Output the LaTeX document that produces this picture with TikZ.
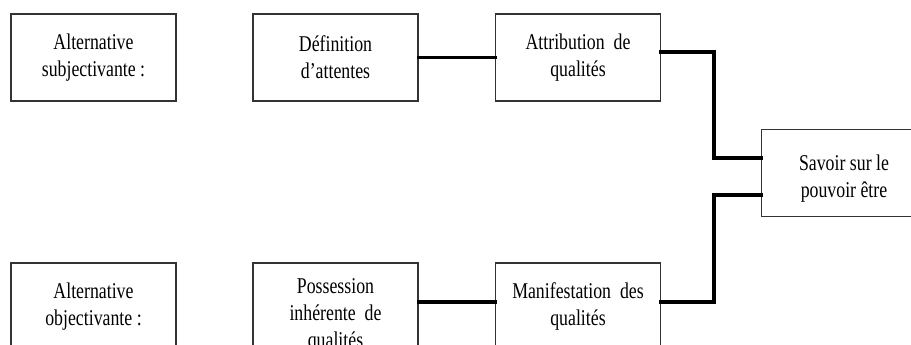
\documentclass[tikz,border=0pt]{standalone}
\usepackage{fontspec}
\setmainfont{Liberation Serif}
% tall, narrow Times-like face for the box labels
\newfontfamily\boxfont[FakeStretch=0.79]{Liberation Serif}
\begin{document}
\begin{tikzpicture}[x=0.75pt,y=-0.75pt,
  boxtext/.style={inner sep=0pt, align=center,
    font=\boxfont\fontsize{16.9pt}{20.25pt}\selectfont},
  box/.style={boxtext, draw=black!80, line width=0.9pt, fill=white,
    minimum width=123.75pt, minimum height=65.25pt},
  link/.style={line width=2.7pt, line cap=rect, line join=miter}]
  \useasboundingbox (0,0) rectangle (911,344);
  \fill[white] (0,0) rectangle (911,344);
  \clip (0,0) rectangle (911,344);

  % upper row
  \node[box] (subj) at (93.5,57.5)  {Alternative\\subjectivante :};
  \node[box] (def)  at (335.5,57.5) {Définition\\d’attentes};
  \node[box] (attr) at (578,57.5)   {Attribution\ \ de\\qualités};

  % target on the right (label sits a little low in its frame)
  \node[box] (sav)  at (844,173) {};
  \node[boxtext] (savtext) at ([yshift=-4.5pt]sav.center) {Savoir sur le\\pouvoir être};

  % lower row
  \node[box] (obj)  at (93.5,306.5)  {Alternative\\objectivante :};
  \node[box] (poss) at (335.5,306.5) {};
  \node[boxtext] (posstext) at ([yshift=-7pt]poss.center) {Possession\\inhérente\ \ de\\qualités};
  \node[box] (man)  at (578,306.5)   {Manifestation\ \ des\\qualités};

  % junction columns of the elbow links
  \coordinate (jtop) at (714,100);
  \coordinate (jbot) at (714,250);

  \draw[link] (def.east) -- (attr.west);
  \draw[link] ([yshift=4.1pt]attr.east) -| (jtop) |- ([yshift=11.25pt]sav.west);
  \draw[link] ([yshift=3.4pt]poss.east) -- ([yshift=3.4pt]man.west);
  \draw[link] ([yshift=3.4pt]man.east) -| (jbot) |- ([yshift=-16.5pt]sav.west);
\end{tikzpicture}
\end{document}
